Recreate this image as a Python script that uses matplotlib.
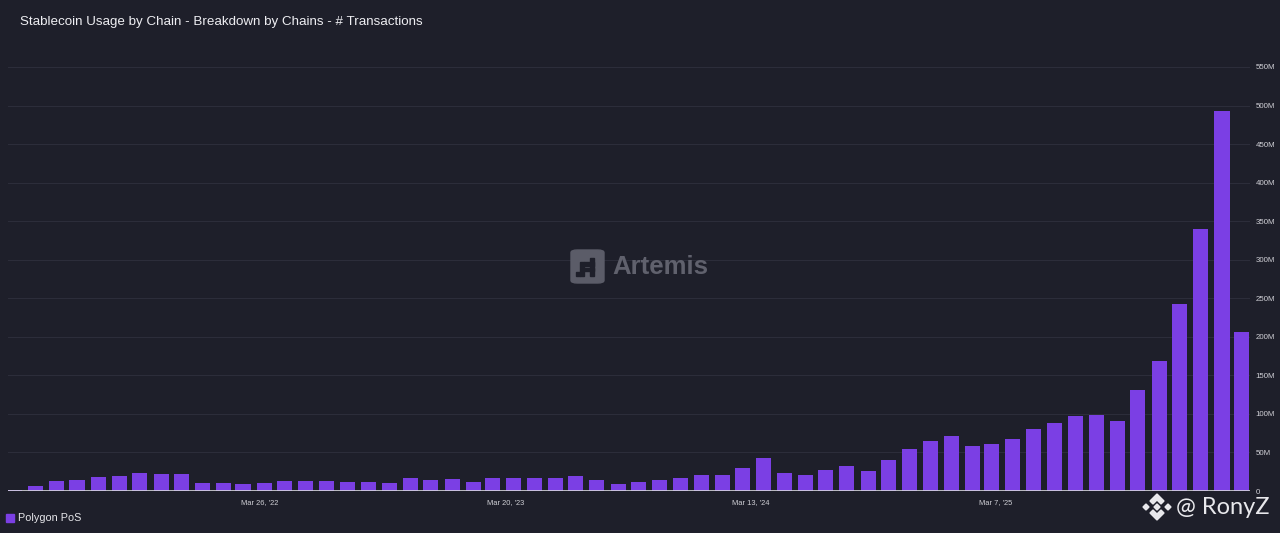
import numpy as np
import pandas as pd
import matplotlib.pyplot as plt
import matplotlib.dates as mdates
from matplotlib.patches import FancyBboxPatch, Rectangle, Polygon
from matplotlib.ticker import FuncFormatter, MultipleLocator

plt.rcParams['font.family'] = ['Liberation Sans', 'DejaVu Sans']

# monthly stablecoin transactions on Polygon PoS, millions (Apr 2021 - Mar 2026)
months = pd.date_range("2021-04-01", periods=60, freq="MS")
tx_millions = [
    1.3, 6.0, 13.4, 14.7, 18.1, 19.9, 23.7, 22.5, 22.0, 10.8,
    10.8, 8.6, 9.9, 13.4, 13.4, 13.4, 12.1, 11.2, 10.4, 16.4,
    14.7, 16.0, 11.2, 16.8, 17.3, 16.4, 17.3, 19.0, 14.7, 9.5,
    12.1, 14.7, 17.3, 20.7, 20.7, 30.2, 42.7, 23.3, 20.7, 26.8,
    32.8, 25.9, 40.6, 54.0, 65.5, 70.8, 57.9, 60.9, 66.9, 80.7,
    87.7, 97.2, 98.0, 91.1, 130.8, 168.8, 243.0, 340.0, 493.0, 206.0,
]
tick_dates = ["2022-03-26", "2023-03-20", "2024-03-13", "2025-03-07"]
series_name = "Polygon PoS"
title = "Stablecoin Usage by Chain - Breakdown by Chains - # Transactions"

bg = "#1e1f2a"
bar_color = "#7b3fe4"
W, H = 1280, 533

fig = plt.figure(figsize=(W / 100, H / 100), dpi=100, facecolor=bg)
ax = fig.add_axes([8 / W, 42 / H, (1250 - 8) / W, (491 - 67) / H])
ax.set_facecolor(bg)

values = np.array(tx_millions) * 1e6
ax.bar(months, values, width=22, color=bar_color, zorder=3)

ax.set_ylim(0, 550e6)
ax.set_xlim(pd.Timestamp("2021-03-22"), pd.Timestamp("2026-03-14"))
ax.yaxis.set_major_locator(MultipleLocator(50e6))
ax.yaxis.set_major_formatter(FuncFormatter(lambda v, p: "0" if v == 0 else f"{v / 1e6:.0f}M"))
ax.yaxis.tick_right()
ax.grid(axis="y", color="#2c2d3a", linewidth=0.8, zorder=0)
ax.axhline(0, color="#d8d8de", linewidth=1.2, zorder=4)

ax.set_xticks([pd.Timestamp(d) for d in tick_dates])
ax.xaxis.set_major_formatter(mdates.DateFormatter("%b %-d, '%y"))
ax.tick_params(axis="x", length=0, pad=6, labelsize=5.4, labelcolor="#d0d0d6")
ax.tick_params(axis="y", length=0, pad=4, labelsize=5.7, labelcolor="#d0d0d6")
for s in ax.spines.values():
    s.set_visible(False)

fig.text(20 / W, 1 - 22.5 / H, title, color="#eeeef2", fontsize=9.65, va="center", ha="left")

# legend
fig.patches.append(Rectangle((6 / W, 1 - 522 / H), 8 / W, 8 / H, transform=fig.transFigure,
                             color=bar_color))
fig.text(18 / W, 1 - 518 / H, series_name, color="#e6e6ea", fontsize=7.8, va="center", ha="left")

# Artemis mark
fig.patches.append(FancyBboxPatch((571 / W, 1 - 283 / H), 33 / W, 33 / H, transform=fig.transFigure,
                                  boxstyle="round,pad=0,rounding_size=0.005", color="#5b5c68"))
for x0, y0, w, h in [(580, 262, 4, 14), (584, 262, 10, 4), (590, 258, 4, 18), (584, 268, 10, 3), (576, 272, 4, 4)]:
    fig.patches.append(Rectangle((x0 / W, 1 - (y0 + h) / H), w / W, h / H,
                                 transform=fig.transFigure, color="#1e1f2a"))
fig.text(612 / W, 1 - 267 / H, "Artemis", color="#60616d", fontsize=18.5, fontweight="bold",
         va="center", ha="left")

# RonyZ badge
cx, cy = 1157, 507
logo = [
    [(cx, cy - 13), (cx + 7, cy - 6), (cx + 4, cy - 3), (cx, cy - 7), (cx - 4, cy - 3), (cx - 7, cy - 6)],
    [(cx, cy + 13), (cx + 7, cy + 6), (cx + 4, cy + 3), (cx, cy + 7), (cx - 4, cy + 3), (cx - 7, cy + 6)],
    [(cx, cy - 3), (cx + 3, cy), (cx, cy + 3), (cx - 3, cy)],
    [(cx - 11, cy - 3), (cx - 8, cy), (cx - 11, cy + 3), (cx - 14, cy)],
    [(cx + 11, cy - 3), (cx + 14, cy), (cx + 11, cy + 3), (cx + 8, cy)],
]
for poly in logo:
    pts = [(px / W, 1 - py / H) for px, py in poly]
    fig.patches.append(Polygon(pts, closed=True, transform=fig.transFigure, color="#e8e8ec"))
fig.text(1176 / W, 1 - 508 / H, "@ RonyZ", color="#e8e8ec", fontsize=17, va="center", ha="left",
         family=["Lato", "DejaVu Sans"])

fig.savefig("out.png", dpi=100, facecolor=bg)
